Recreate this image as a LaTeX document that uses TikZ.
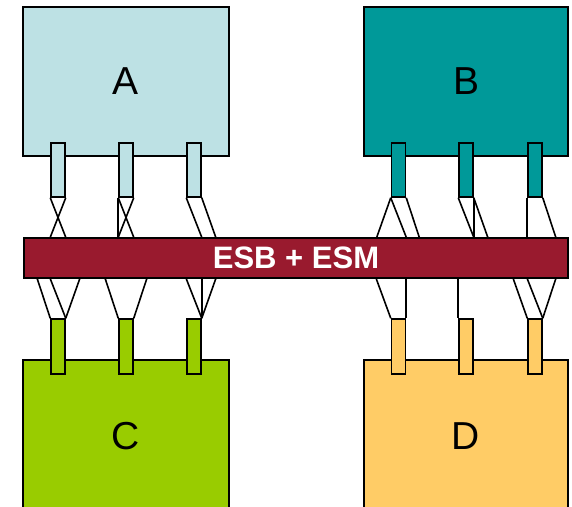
\documentclass[tikz,border=0pt]{standalone}
\usepackage{fontspec}
\setmainfont{Liberation Sans}
\definecolor{cA}{HTML}{BDE1E4}
\definecolor{cB}{HTML}{009999}
\definecolor{cC}{HTML}{99CC00}
\definecolor{cD}{HTML}{FFCC66}
\definecolor{cbar}{HTML}{991A2E}
\tikzset{
  bigbox/.style={draw=black, line width=1.5pt, minimum width=206pt, minimum height=149pt, inner sep=0pt, font=\fontsize{39}{39}\selectfont},
  pin/.style={draw=black, line width=1.5pt, minimum width=14pt, minimum height=54pt, inner sep=0pt},
  wire/.style={draw=black, line width=1.6pt},
}
\begin{document}
\begin{tikzpicture}[x=1pt,y=-1pt]
\clip (0,0) rectangle (572,506);
% boxes
\node[bigbox, fill=cA] (A) at (126,81.5) {A};
\node[bigbox, fill=cB, minimum width=204pt] (B) at (466,81.5) {B};
\node[bigbox, fill=cC, minimum height=152pt] (C) at (126,436) {C};
\node[bigbox, fill=cD, minimum width=204pt, minimum height=152pt] (D) at (466,436) {D};
% bar
\node[draw=black, line width=1.5pt, fill=cbar, minimum width=544pt, minimum height=40pt, inner sep=0pt, text=white, font=\bfseries\fontsize{31}{31}\selectfont] (bar) at (296,258) {ESB + ESM};
% upper pins
\node[pin, fill=cA] (a1) at (58,170) {};
\node[pin, fill=cA] (a2) at (126,170) {};
\node[pin, fill=cA] (a3) at (194,170) {};
\node[pin, fill=cB] (b1) at (398.5,170) {};
\node[pin, fill=cB] (b2) at (466,170) {};
\node[pin, fill=cB] (b3) at (535,170) {};
% lower pins
\node[pin, fill=cC, minimum height=55pt] (c1) at (58,346.5) {};
\node[pin, fill=cC, minimum height=55pt] (c2) at (126,346.5) {};
\node[pin, fill=cC, minimum height=55pt] (c3) at (194,346.5) {};
\node[pin, fill=cD, minimum height=55pt] (d1) at (398.5,346.5) {};
\node[pin, fill=cD, minimum height=55pt] (d2) at (466,346.5) {};
\node[pin, fill=cD, minimum height=55pt] (d3) at (535,346.5) {};
% upper wires
\draw[wire] (a1.south west) -- (a1.south east |- bar.north);
\draw[wire] (a1.south east) -- (a1.south west |- bar.north);
\draw[wire] (a2.south west) -- (a2.south west |- bar.north);
\draw[wire] (a2.south west) -- (a2.south east |- bar.north);
\draw[wire] (a2.south east) -- (a2.south west |- bar.north);
\draw[wire] (a3.south west) -- (a3.south east |- bar.north);
\draw[wire] (a3.south east) -- ([xshift=14pt]a3.south east |- bar.north);
\draw[wire] (b1.south west) -- ([xshift=-14pt]b1.south west |- bar.north);
\draw[wire] (b1.south west) -- (b1.south east |- bar.north);
\draw[wire] (b1.south east) -- ([xshift=13pt]b1.south east |- bar.north);
\draw[wire] (b2.south west) -- (b2.south east |- bar.north);
\draw[wire] (b2.south east) -- (b2.south east |- bar.north);
\draw[wire] (b2.south east) -- ([xshift=14pt]b2.south east |- bar.north);
\draw[wire] (b3.south west) -- (b3.south west |- bar.north);
\draw[wire] (b3.south east) -- ([xshift=13pt]b3.south east |- bar.north);
% lower wires
\draw[wire] ([xshift=-13pt]c1.north west |- bar.south) -- (c1.north west);
\draw[wire] (c1.north west |- bar.south) -- (c1.north east);
\draw[wire] ([xshift=14pt]c1.north east |- bar.south) -- (c1.north east);
\draw[wire] ([xshift=-13pt]c2.north west |- bar.south) -- (c2.north west);
\draw[wire] ([xshift=13pt]c2.north east |- bar.south) -- (c2.north east);
\draw[wire] (c3.north west |- bar.south) -- (c3.north east);
\draw[wire] (c3.north east |- bar.south) -- (c3.north east);
\draw[wire] ([xshift=14pt]c3.north east |- bar.south) -- (c3.north east);
\draw[wire] ([xshift=-14.5pt]d1.north west |- bar.south) -- (d1.north west);
\draw[wire] (d1.north east |- bar.south) -- (d1.north east);
\draw[wire] (d2.north west |- bar.south) -- (d2.north west);
\draw[wire] ([xshift=-14pt]d3.north west |- bar.south) -- (d3.north west);
\draw[wire] (d3.north west |- bar.south) -- (d3.north east);
\draw[wire] ([xshift=13pt]d3.north east |- bar.south) -- (d3.north east);
\end{tikzpicture}
\end{document}
